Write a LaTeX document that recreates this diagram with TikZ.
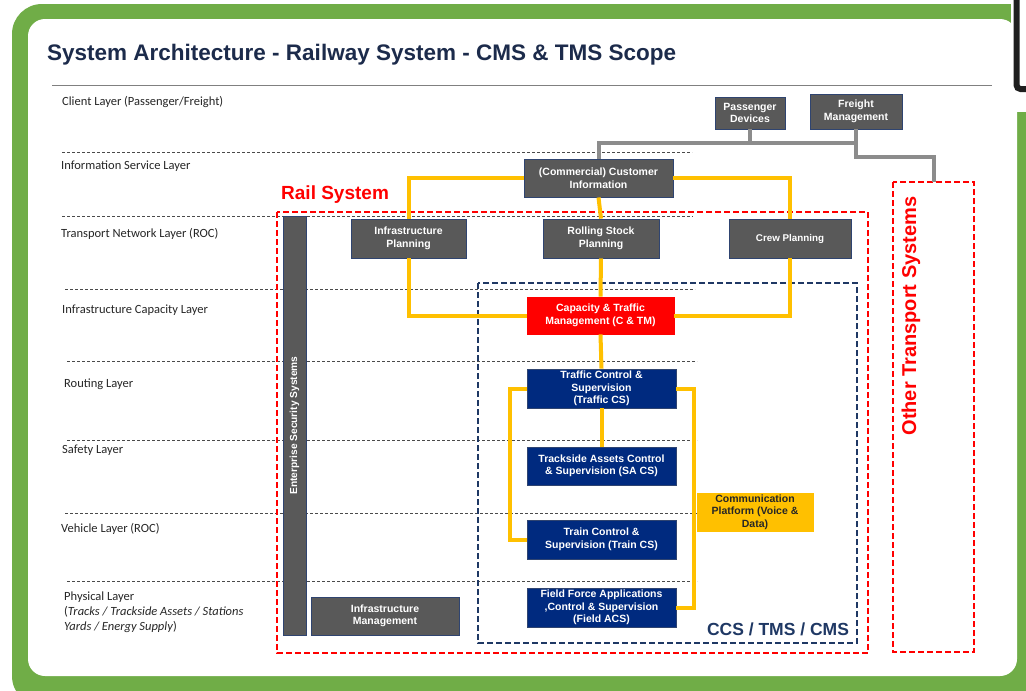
\documentclass[tikz,border=0pt]{standalone}
\usepackage{fontspec}
\setmainfont{Liberation Sans}
\newfontfamily\calib{Carlito}
\definecolor{frameg}{HTML}{70AD47}
\definecolor{titlenavy}{HTML}{1C2B4B}
\definecolor{boxgrey}{HTML}{595959}
\definecolor{boxedge}{HTML}{2F4470}
\definecolor{navyfill}{HTML}{002A7F}
\definecolor{gold}{HTML}{FFC000}
\definecolor{conngrey}{HTML}{8C8C8C}
\definecolor{dashnavy}{HTML}{1F3864}
\definecolor{layerline}{HTML}{4A4A4A}
\definecolor{railred}{HTML}{FF0000}
\tikzset{
 base/.style={rectangle, draw=boxedge, line width=0.8pt, inner sep=1pt, align=center, text=white, font=\bfseries\fontsize{10.5}{12.5}\selectfont},
 greybox/.style={base, fill=boxgrey},
 navybox/.style={base, fill=navyfill},
 redbox/.style={base, fill=railred, draw=railred},
 goldbox/.style={base, fill=gold, draw=gold, text=black!85},
 yline/.style={draw=gold, line width=4pt},
 gline/.style={draw=conngrey, line width=4pt},
 layer/.style={anchor=base west, inner sep=0pt, font=\calib\fontsize{12.5}{15}\selectfont, text=black!85},
 layerdash/.style={draw=layerline, line width=0.8pt, dash pattern=on 3pt off 2pt},
 reddash/.style={draw=railred, line width=1.6pt, dash pattern=on 6pt off 3pt},
 navydash/.style={draw=dashnavy, line width=1.6pt, dash pattern=on 6pt off 3pt},
}
\begin{document}
\begin{tikzpicture}[x=1pt,y=-1pt]
\useasboundingbox (0,0) rectangle (1026,691);
% frame
\fill[white] (0,0) rectangle (1026,691);
\fill[frameg, rounded corners=30pt] (12,4) rectangle (1045,706);
\fill[white, rounded corners=17pt] (28,19) rectangle (1017,676);
\fill[white] (1011,-1) rectangle (1027,112);
\draw[black!88, line width=6pt, rounded corners=4pt] (1016.5,-3) -- (1016.5,89) -- (1030,89);
% title
\node[anchor=base west, inner sep=0pt, text=titlenavy, font=\bfseries\fontsize{22.5}{26}\selectfont] (title) at (47,60) {System Architecture - Railway System - CMS \& TMS Scope};
\draw[black!50, line width=1pt] (52,85) -- (992,85);
% layer lines
\draw[layerdash] (62,152) -- (692,152);
\draw[layerdash] (62,216) -- (693,216);
\draw[layerdash] (65,289) -- (695,289);
\draw[layerdash] (67,361) -- (697,361);
\draw[layerdash] (67,440) -- (697,440);
\draw[layerdash] (65,513) -- (697,513);
\draw[layerdash] (67,581) -- (697,581);
% layer labels
\node[layer] (l1) at (62,105) {Client Layer (Passenger/Freight)};
\node[layer] (l2) at (61,169) {Information Service Layer};
\node[layer] (l3) at (61,237) {Transport Network Layer (ROC)};
\node[layer] (l4) at (62,313) {Infrastructure Capacity Layer};
\node[layer] (l5) at (64,387) {Routing Layer};
\node[layer] (l6) at (62,453) {Safety Layer};
\node[layer] (l7) at (61,532) {Vehicle Layer (ROC)};
\node[layer] (l8) at (64,600) {Physical Layer};
\node[layer] (l9) at (64,615) {(\textit{Tracks / Trackside Assets / Stations}};
\node[layer] (l10) at (64,630) {\textit{Yards / Energy Supply})};
% dashed frames
\draw[reddash] (277,212) rectangle (868,653);
\draw[reddash] (893,182) rectangle (974,652);
\coordinate (othertop) at (933.5,182);
\draw[navydash] (478,283) rectangle (857,643);
\node[anchor=base west, inner sep=0pt, text=railred, font=\bfseries\fontsize{19}{22}\selectfont] (railt) at (281,199) {Rail System};
\node[rotate=90, inner sep=0pt, text=railred, font=\bfseries\fontsize{20}{24}\selectfont] (othert) at (911,316) {Other Transport Systems};
\node[inner sep=0pt, text=dashnavy, font=\bfseries\fontsize{17.5}{20}\selectfont] (ccst) at (778,629) {CCS / TMS / CMS};
% boxes
\node[greybox, minimum width=23pt, minimum height=419pt] (ess) at (294.5,425.5) {};
\node[rotate=90, inner sep=0pt, text=white, font=\bfseries\fontsize{10.2}{12}\selectfont] (esst) at (ess.center) {Enterprise Security Systems};
\node[greybox, minimum width=70pt, minimum height=32pt] (pass) at (750,113) {Passenger\\Devices};
\node[greybox, minimum width=92pt, minimum height=35pt] (freight) at (856,111.5) {Freight\\Management};
\node[greybox, minimum width=149pt, minimum height=38pt] (cust) at (598.5,178) {(Commercial) Customer\\Information};
\node[greybox, minimum width=115pt, minimum height=39pt] (infp) at (408.5,238.5) {Infrastructure\\Planning};
\node[greybox, minimum width=116pt, minimum height=39pt] (rsp) at (601,238.5) {Rolling Stock\\Planning};
\node[greybox, minimum width=122pt, minimum height=39pt, font=\bfseries\fontsize{9.8}{12}\selectfont] (crew) at (790,238.5) {Crew Planning};
\node[greybox, minimum width=148pt, minimum height=38pt] (infm) at (385,616) {Infrastructure\\Management};
\node[redbox, minimum width=147pt, minimum height=37pt] (ctm) at (600.5,315.5) {Capacity \& Traffic\\Management (C \& TM)};
\node[navybox, minimum width=149pt, minimum height=39pt] (tcs) at (601.5,388.5) {Traffic Control \&\\Supervision\\(Traffic CS)};
\node[navybox, minimum width=149pt, minimum height=38pt] (sacs) at (601.5,466) {Trackside Assets Control\\\& Supervision (SA CS)};
\node[navybox, minimum width=149pt, minimum height=39pt] (train) at (601.5,539.5) {Train Control \&\\Supervision (Train CS)};
\node[navybox, minimum width=149pt, minimum height=39pt] (field) at (601.5,607.5) {Field Force Applications\\,Control \& Supervision\\(Field ACS)};
\node[goldbox, minimum width=116pt, minimum height=38pt] (comm) at (755,512) {Communication\\Platform (Voice \&\\Data)};
% grey connectors
\coordinate (gj) at (856,143);
\draw[gline] (cust.north) |- (gj);
\draw[gline] (pass.south) -- (pass.south |- gj);
\draw[gline] (freight.south) -- ++(0,28) -| (othertop);
% gold connectors
\draw[yline] (cust.west) -| (infp.north);
\draw[yline] (cust.east) -| (crew.north);
\draw[yline] (cust.south) -- (rsp.north);
\draw[yline] (infp.south) |- (ctm.west);
\draw[yline] (crew.south) |- (ctm.east);
\draw[yline] (rsp.south) -- (ctm.north);
\draw[yline] (ctm.south) -- (tcs.north);
\draw[yline] (tcs.south) -- (sacs.north);
\draw[yline] (tcs.west) -- ++(-17,0) |- (train.west);
\draw[yline] (tcs.east) -- ++(18,0) |- (field.east);
\end{tikzpicture}
\end{document}
